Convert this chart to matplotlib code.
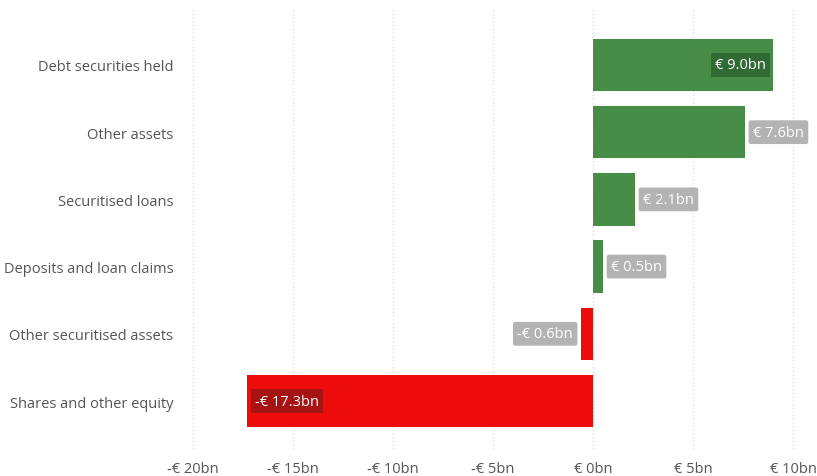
import matplotlib.pyplot as plt
import numpy as np

plt.rcParams['font.family'] = ['Open Sans', 'DejaVu Sans']

categories = ["Debt securities held", "Other assets", "Securitised loans",
              "Deposits and loan claims", "Other securitised assets", "Shares and other equity"]
values = [9.0, 7.6, 2.1, 0.5, -0.6, -17.3]
labels = ["€ 9.0bn", "€ 7.6bn", "€ 2.1bn", "€ 0.5bn", "-€ 0.6bn", "-€ 17.3bn"]
ticks = [-20, -15, -10, -5, 0, 5, 10]
tick_labels = ["-€ 20bn", "-€ 15bn", "-€ 10bn", "-€ 5bn", "€ 0bn", "€ 5bn", "€ 10bn"]

green = "#478d47"
red = "#ec0c0c"

fig = plt.figure(figsize=(8.17, 4.77), dpi=100)
ax = fig.add_axes([183/817, 1 - 450/477, 622/817, 440/477])

y = np.arange(len(categories))[::-1]
colors = [green if v >= 0 else red for v in values]
ax.barh(y, values, height=0.78, color=colors, zorder=2)

for yi, v, lab in zip(y, values, labels):
    big = abs(v) > 8
    if v >= 0:
        if big:
            ax.text(v - 0.35, yi, lab, ha="right", va="center", color="white", fontsize=10.5,
                    bbox=dict(boxstyle="square,pad=0.3", fc="#2f6b33", ec="none"), zorder=3)
        else:
            ax.text(v + 0.4, yi, lab, ha="left", va="center", color="white", fontsize=10.5,
                    bbox=dict(boxstyle="round,pad=0.3,rounding_size=0.15", fc="#b3b3b3", ec="none"), zorder=3)
    else:
        if big:
            ax.text(v + 0.4, yi, lab, ha="left", va="center", color="white", fontsize=10.5,
                    bbox=dict(boxstyle="square,pad=0.3", fc="#a51313", ec="none"), zorder=3)
        else:
            ax.text(v - 0.4, yi, lab, ha="right", va="center", color="white", fontsize=10.5,
                    bbox=dict(boxstyle="round,pad=0.3,rounding_size=0.15", fc="#b3b3b3", ec="none"), zorder=3)

ax.set_xlim(-20.5, 10.6)
ax.set_ylim(-0.714, 5.833)
ax.set_xticks(ticks)
ax.set_xticklabels(tick_labels, fontsize=10.5, color="#555555")
ax.set_yticks(y)
ax.set_yticklabels(categories, fontsize=10.5, color="#555555")
ax.tick_params(length=0)
ax.tick_params(axis="x", pad=9)
ax.tick_params(axis="y", pad=7)
ax.grid(axis="x", color="#dddddd", linestyle=":", linewidth=1, zorder=0)
for s in ax.spines.values():
    s.set_visible(False)

fig.savefig("out.png", dpi=100)
